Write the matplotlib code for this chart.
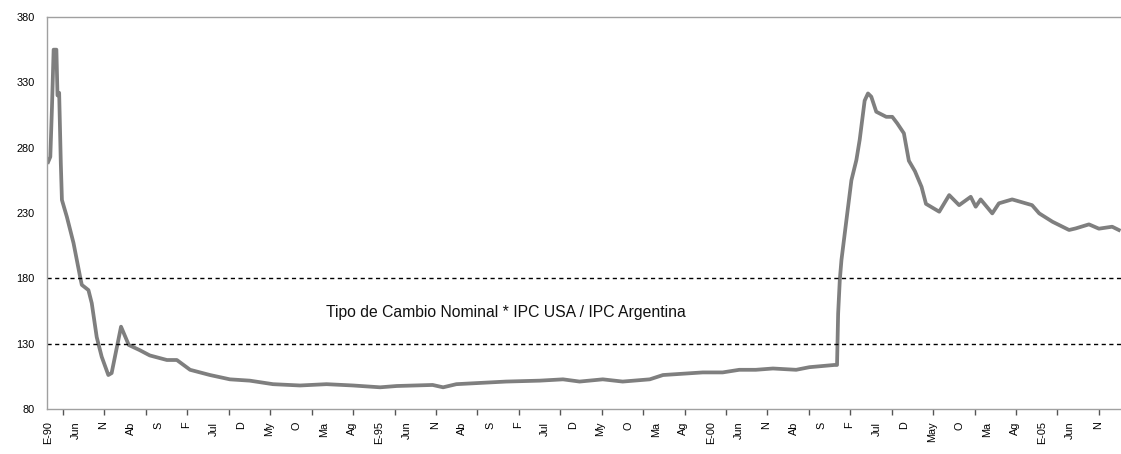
import numpy as np
import matplotlib
matplotlib.use("Agg")
import matplotlib.pyplot as plt

# meses desde enero 1990 (posicion fraccional) y tipo de cambio real
meses = [0.0, 0.4, 0.7, 1.0, 1.5, 1.7, 2.0, 2.3, 2.5, 3.4, 4.6, 5.8, 6.1, 7.3, 7.9,
         8.8, 9.7, 10.9, 11.5, 13.2, 14.6, 16.6, 18.4, 21.5, 23.3, 25.7, 29.3, 32.9,
         36.5, 40.7, 45.6, 50.4, 55.2, 60.1, 63.1, 69.6, 71.5, 73.9, 82.9, 89.0, 93.2,
         96.2, 100.4, 104.0, 108.9, 111.3, 118.5, 122.1, 125.1, 128.1, 131.2, 135.4,
         137.8, 142.3, 142.8, 143.0, 143.3, 143.6, 144.5, 145.4, 146.3, 146.9, 147.8,
         148.4, 149.0, 149.9, 151.7, 152.8, 153.7, 154.9, 155.8, 156.9, 158.1, 158.9,
         161.3, 163.1, 164.9, 167.0, 167.9, 168.8, 170.9, 172.1, 174.5, 178.1, 179.4,
         181.8, 184.8, 186.0, 188.4, 190.2, 192.6, 193.8]
tcr = [269, 273, 311, 355, 355, 320, 322, 268, 240, 227, 207, 181, 175, 171, 161,
       135, 120, 106, 107.5, 143, 129, 125, 121, 117.5, 117.5, 110, 106, 102.7,
       101.7, 99, 98, 99, 98, 96.6, 97.6, 98.4, 96.6, 99, 101, 101.7, 102.7,
       101, 102.7, 101, 102.7, 106, 108, 108, 110, 110, 111, 110,
       112, 113.7, 113.7, 153, 178.7, 194, 224.6, 255, 270.5, 286, 316,
       321.5, 319, 307.5, 303.6, 303.6, 298.6, 291, 270, 262, 250, 237,
       231, 243.7, 236, 242.4, 234.8, 240.4, 229.7, 237.4, 240.4, 236, 229.7,
       223.3, 217, 218.2, 221.3, 218, 219.5, 217]

etiquetas = ["E-90", "Jun", "N", "Ab", "S", "F", "Jul", "D", "My", "O", "Ma", "Ag",
             "E-95", "Jun", "N", "Ab", "S", "F", "Jul", "D", "My", "O", "Ma", "Ag",
             "E-00", "Jun", "N", "Ab", "S", "F", "Jul", "D", "May", "O", "Ma", "Ag",
             "E-05", "Jun", "N"]
yticks = [80, 130, 180, 230, 280, 330, 380]

plt.rcParams['font.family'] = ['Liberation Sans', 'DejaVu Sans']

fig = plt.figure(figsize=(11.21, 4.54), dpi=100)
ax = fig.add_axes([47 / 1121, 1 - 409 / 454, 1 - 47 / 1121, (409 - 17) / 454])

ax.plot(meses, tcr, color='#7f7f7f', lw=2.7, solid_joinstyle='round')
for nivel in (180, 130):
    ax.axhline(nivel, color='black', lw=1, ls=(0, (3, 2.5)))

ax.text(0.427, 0.245, "Tipo de Cambio Nominal * IPC USA / IPC Argentina",
        transform=ax.transAxes, ha='center', va='center', fontsize=11.3,
        color='#111111')

ax.set_xlim(-0.2, 194.2)
ax.set_ylim(80, 380)
ax.set_yticks(yticks)
ax.tick_params(axis='y', length=0, labelsize=7.8, pad=9)

ax.set_xticks(np.arange(len(etiquetas)) * 5)
ax.set_xticklabels(etiquetas, rotation=90, fontsize=7.8)
ax.tick_params(axis='x', which='major', length=0, pad=9)
ax.set_xticks(np.arange(2.7, 194, 7.5), minor=True)
ax.tick_params(axis='x', which='minor', length=4, color='#555555', width=1)

for lado in ('left', 'bottom', 'top'):
    ax.spines[lado].set_color('#a0a0a0')
    ax.spines[lado].set_linewidth(1)
ax.spines['right'].set_visible(False)

fig.savefig("out.png", dpi=100)
